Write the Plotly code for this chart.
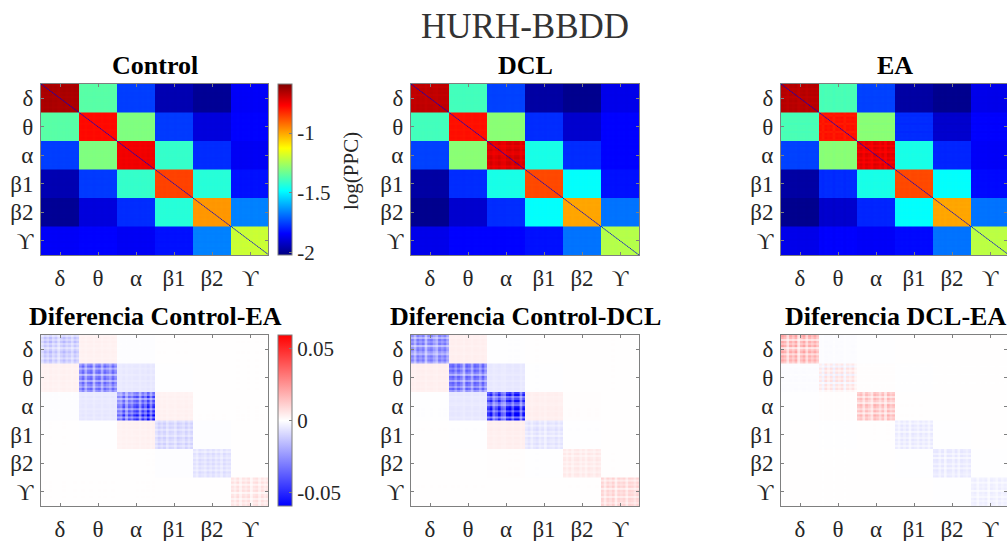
import numpy as np
import plotly.graph_objects as go

BANDS = ["δ", "θ", "α", "β1", "β2", "ϒ"]
MAIN_TITLE = "HURH-BBDD"

CONTROL = [
    [-0.65, -1.36, -1.755, -1.95, -1.99, -1.85],
    [-1.36, -0.78, -1.305, -1.76, -1.89, -1.84],
    [-1.755, -1.305, -0.75, -1.41, -1.78, -1.855],
    [-1.95, -1.76, -1.41, -0.86, -1.43, -1.82],
    [-1.99, -1.89, -1.78, -1.43, -0.98, -1.66],
    [-1.85, -1.84, -1.855, -1.82, -1.66, -1.20],
]
DCL = [
    [-0.68, -1.39, -1.75, -1.97, -2.00, -1.87],
    [-1.39, -0.79, -1.29, -1.78, -1.91, -1.84],
    [-1.75, -1.29, -0.73, -1.45, -1.78, -1.84],
    [-1.97, -1.78, -1.45, -0.87, -1.48, -1.82],
    [-2.00, -1.91, -1.78, -1.48, -1.00, -1.68],
    [-1.87, -1.84, -1.84, -1.82, -1.68, -1.23],
]
EA = [
    [-0.67, -1.38, -1.75, -1.97, -2.00, -1.87],
    [-1.38, -0.79, -1.29, -1.78, -1.91, -1.84],
    [-1.75, -1.29, -0.74, -1.45, -1.79, -1.85],
    [-1.97, -1.78, -1.45, -0.87, -1.48, -1.83],
    [-2.00, -1.91, -1.79, -1.48, -1.00, -1.68],
    [-1.87, -1.84, -1.85, -1.83, -1.68, -1.22],
]
DIFF_CTRL_EA = [
    [-0.010, 0.003, -0.0004, 0.0003, 0.0002, 0.0003],
    [0.003, -0.025, -0.005, -0.0003, 0.0002, 0.0003],
    [-0.0004, -0.005, -0.032, 0.003, 0.0003, 0.0003],
    [0.0003, -0.0003, 0.003, -0.008, -0.0005, 0.0002],
    [0.0002, 0.0002, 0.0003, -0.0005, -0.006, 0.0002],
    [0.0003, 0.0003, 0.0003, 0.0002, 0.0002, 0.005],
]
DIFF_CTRL_DCL = [
    [-0.022, 0.0035, -0.0003, 0.0003, 0.0002, 0.0003],
    [0.0035, -0.026, -0.005, -0.0003, 0.0002, 0.0003],
    [-0.0003, -0.005, -0.036, 0.0035, 0.0005, 0.0002],
    [0.0003, -0.0003, 0.0035, -0.005, -0.0003, 0.0002],
    [0.0002, 0.0002, 0.0005, -0.0003, 0.004, 0.0003],
    [0.0003, 0.0003, 0.0002, 0.0002, 0.0003, 0.007],
]
DIFF_DCL_EA = [
    [0.013, -0.0007, -0.0002, 0.0002, 0.0002, 0.0002],
    [-0.0007, 0.005, 0.0004, -0.0002, 0.0002, 0.0002],
    [-0.0002, 0.0004, 0.011, 0.0003, 0.0002, 0.0002],
    [0.0002, -0.0002, 0.0003, -0.004, -0.0002, 0.0002],
    [0.0002, 0.0002, 0.0002, -0.0002, -0.004, -0.0002],
    [0.0002, 0.0002, 0.0002, 0.0002, -0.0002, -0.003],
]
# Row/column strength of each region within a band, read by eye from the zooms
TEX_CTRL_EA = [
    [0.7, 1.2, 0.9, 1.3, 0.8, 1.1, 0.6, 1.0, 1.3, 0.9, 1.1, 0.7, 1.2, 0.9],
    [0.9, 1.2, 0.7, 1.1, 1.2, 0.6, 1.1, 1.2, 0.7, 1.2, 1.0, 0.8, 1.2, 0.9],
    [0.8, 0.7, 1.1, 0.6, 1.0, 0.8, 1.1, 1.2, 0.7, 1.2, 0.9, 1.4, 0.8, 1.3],
    [0.8, 1.2, 0.9, 1.2, 0.7, 1.1, 1.0, 0.7, 1.2, 1.0, 0.8, 1.2, 0.8, 1.1],
    [1.0, 0.7, 1.2, 1.0, 0.8, 1.2, 0.9, 1.2, 0.8, 1.1, 0.7, 1.2, 0.9, 1.0],
    [1.1, 0.7, 1.3, 0.5, 1.2, 0.9, 1.3, 0.4, 1.1, 1.3, 0.6, 1.2, 0.8, 1.1],
]
TEX_CTRL_DCL = [
    [1.1, 0.7, 1.2, 1.0, 1.2, 0.6, 1.1, 1.2, 0.9, 0.7, 1.2, 1.0, 1.2, 0.8],
    [1.1, 1.2, 0.9, 1.2, 1.0, 0.6, 1.2, 1.1, 0.7, 1.2, 1.1, 0.8, 1.2, 0.8],
    [1.0, 1.2, 0.7, 0.9, 1.2, 0.8, 0.7, 1.2, 1.3, 0.9, 1.3, 1.3, 0.7, 1.2],
    [0.9, 1.2, 0.7, 1.1, 1.3, 0.8, 1.1, 0.6, 1.2, 1.0, 0.9, 1.2, 0.8, 1.1],
    [1.1, 0.8, 1.2, 0.7, 1.1, 1.2, 0.8, 1.1, 0.7, 1.2, 1.0, 0.8, 1.2, 1.0],
    [1.2, 0.6, 1.2, 0.9, 1.3, 0.5, 1.2, 1.0, 1.2, 0.6, 1.2, 1.1, 0.8, 1.2],
]
TEX_DCL_EA = [
    [1.3, 1.1, 0.5, 1.2, 0.9, 1.3, 0.4, 1.0, 1.3, 0.6, 1.2, 0.9, 1.2, 0.8],
    [0.9, -0.5, 1.3, 0.6, 1.2, -0.6, 1.2, 0.8, 1.3, -0.4, 1.1, 0.7, 1.2, 0.4],
    [1.0, 1.2, 0.6, 1.2, 0.9, 0.5, 1.3, 1.1, 0.7, 1.2, 0.5, 1.3, 0.9, 1.1],
    [1.0, 0.6, 1.2, 0.8, 1.2, 0.5, 1.2, 1.0, 0.7, 1.2, 0.8, 1.1, 0.6, 1.1],
    [1.1, 1.2, 0.7, 1.2, 0.5, 1.2, 1.1, 0.7, 1.2, 0.6, 1.2, 1.0, 0.8, 1.1],
    [1.0, 1.2, 0.5, 1.1, 0.9, 1.2, 0.4, 1.2, 1.0, 0.6, 1.2, 0.8, 1.1, 0.9],
]
# Extra texture strength of the diagonal blocks in the top row
TOP_TEX_AMP_CONTROL = [0.012, 0.008, 0.012, 0.006, 0.006, 0.006]
TOP_TEX_AMP_DCL = [0.015, 0.010, 0.045, 0.006, 0.006, 0.006]
TOP_TEX_AMP_EA = [0.015, 0.010, 0.040, 0.006, 0.006, 0.006]

TOP_DIAGONAL = -1.90

W, H = 1007, 541
REGIONS = 14
SUB = 3
FULL = len(BANDS) * REGIONS * SUB
TOP_Y = (84, 255)
BOT_Y = (335, 506)
COL_X = [(41, 268), (411, 639), (781, 1007)]
PANEL_W = 228
JET = [[0, "rgb(0,0,128)"], [0.125, "rgb(0,0,255)"], [0.375, "rgb(0,255,255)"],
       [0.625, "rgb(255,255,0)"], [0.875, "rgb(255,0,0)"], [1, "rgb(128,0,0)"]]
BWR = [[0, "rgb(0,0,255)"], [0.5, "rgb(255,255,255)"], [1, "rgb(255,0,0)"]]
SERIF = "Liberation Serif"
AXIS_GREY = "#7f7f7f"
TEXT = "#262626"


def fine(block):
    return np.repeat(np.repeat(block, SUB, axis=0), SUB, axis=1)


def build_top(table, tex, amps):
    rows = []
    for a in range(6):
        row = []
        for b in range(6):
            prod = np.outer(tex[a], tex[b]) - 1
            amp = amps[a] if a == b else 0.004
            row.append(fine(table[a][b] + amp * prod))
        rows.append(row)
    z = np.block(rows)
    np.fill_diagonal(z, TOP_DIAGONAL)
    return z


def build_diff(table, tex):
    rows = []
    for a in range(6):
        row = []
        for b in range(6):
            prod = np.outer(tex[a], tex[b]) - 1
            w = 1.0 if a == b else 0.3
            row.append(fine(table[a][b] * (1 + w * prod)))
        rows.append(row)
    return np.block(rows)


panels = [
    (0, 0, build_top(CONTROL, TEX_CTRL_EA, TOP_TEX_AMP_CONTROL), "Control"),
    (0, 1, build_top(DCL, TEX_CTRL_DCL, TOP_TEX_AMP_DCL), "DCL"),
    (0, 2, build_top(EA, TEX_DCL_EA, TOP_TEX_AMP_EA), "EA"),
    (1, 0, build_diff(DIFF_CTRL_EA, TEX_CTRL_EA), "Diferencia Control-EA"),
    (1, 1, build_diff(DIFF_CTRL_DCL, TEX_CTRL_DCL), "Diferencia Control-DCL"),
    (1, 2, build_diff(DIFF_DCL_EA, TEX_DCL_EA), "Diferencia DCL-EA"),
]

fig = go.Figure()
coords = np.arange(FULL) + 0.5
tickvals = [(i + 0.5) * REGIONS * SUB for i in range(6)]

for n, (r, c, z, title) in enumerate(panels, start=1):
    y0, y1 = TOP_Y if r == 0 else BOT_Y
    x0, x1 = COL_X[c]
    xname = "x" if n == 1 else f"x{n}"
    yname = "y" if n == 1 else f"y{n}"
    is_top = r == 0
    first = c == 0
    cb = None
    if first:
        cb = dict(x=278 / W, xanchor="left", y=1 - (y0 + y1) / 2 / H, yanchor="middle",
                  len=(y1 - y0) / H, lenmode="fraction", thickness=14, thicknessmode="pixels",
                  outlinecolor=AXIS_GREY, outlinewidth=1, ticks="inside", ticklen=3,
                  tickcolor=AXIS_GREY, tickmode="array",
                  tickvals=[-2, -1.5, -1] if is_top else [-0.05, 0, 0.05],
                  ticktext=["-2", "-1.5", "-1"] if is_top else ["-0.05", "0", "0.05"],
                  tickfont=dict(family=SERIF, size=21, color=TEXT), xpad=0, ypad=0)
    fig.add_trace(go.Heatmap(
        z=z, x=coords, y=coords, xaxis=xname, yaxis=yname,
        colorscale=JET if is_top else BWR,
        zmin=-2.02 if is_top else -0.0594,
        zmax=-0.59 if is_top else 0.0594,
        zsmooth="fast",
        showscale=first, colorbar=cb, hoverinfo="skip",
    ))
    frac = (x1 - x0) / PANEL_W
    common = dict(
        tickmode="array", tickvals=tickvals, ticktext=BANDS, ticks="inside", ticklen=3,
        tickcolor=AXIS_GREY, tickwidth=1, showline=True, linecolor=AXIS_GREY, linewidth=1,
        mirror="ticks", showgrid=False, zeroline=False,
        tickfont=dict(family=SERIF, size=23, color=TEXT),
    )
    fig.layout[f"xaxis{'' if n == 1 else n}"] = dict(
        domain=[x0 / W, x1 / W], range=[0, FULL * frac], anchor=yname,
        ticklabelstandoff=2, **common)
    fig.layout[f"yaxis{'' if n == 1 else n}"] = dict(
        domain=[1 - y1 / H, 1 - y0 / H], range=[FULL, 0], anchor=xname,
        ticklabelstandoff=2, **common)
    fig.add_annotation(text=f"<b>{title}</b>", xref="paper", yref="paper",
                       x=(x0 + PANEL_W / 2) / W, y=1 - (65.5 if is_top else 316.5) / H,
                       xanchor="center", yanchor="middle", showarrow=False,
                       font=dict(family=SERIF, size=26, color="#000000"))

fig.add_annotation(text="log(PPC)", xref="paper", yref="paper", x=351 / W, y=1 - 171 / H,
                   xanchor="center", yanchor="middle", showarrow=False, textangle=-90,
                   font=dict(family=SERIF, size=21, color=TEXT))
fig.add_annotation(text=MAIN_TITLE, xref="paper", yref="paper", x=525 / W, y=1 - 27 / H,
                   xanchor="center", yanchor="middle", showarrow=False,
                   font=dict(family=SERIF, size=35, color="#333333"))
fig.update_layout(width=W, height=H, margin=dict(l=0, r=0, t=0, b=0, autoexpand=False),
                  paper_bgcolor="white", plot_bgcolor="white", showlegend=False)
fig.write_html("out.html", config={"displayModeBar": False},
               post_script="document.body.style.margin='0';")
